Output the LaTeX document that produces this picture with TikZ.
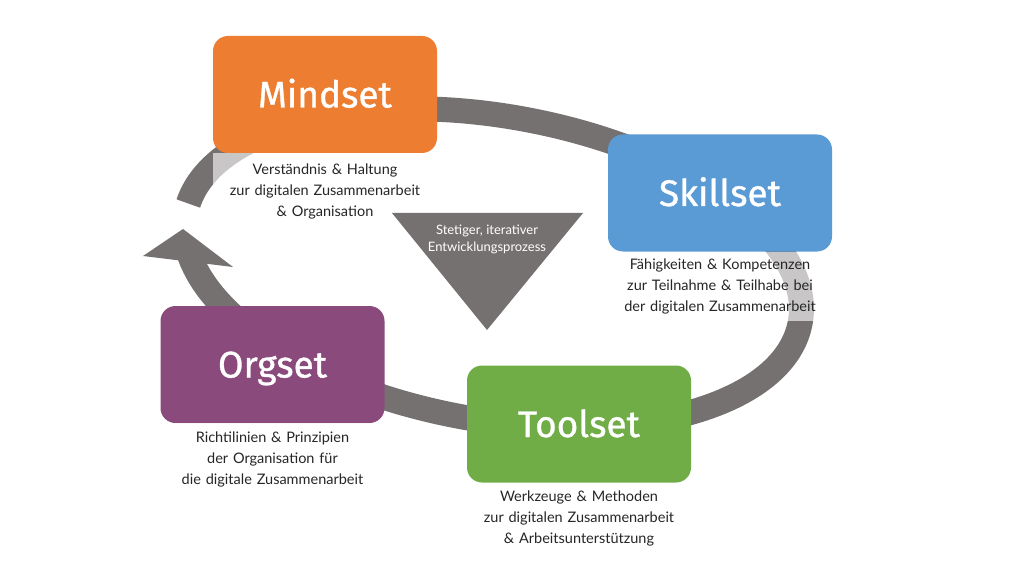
\documentclass[tikz,border=0pt]{standalone}
\usepackage{fontspec}
\setmainfont{Lato}
\newfontfamily\titlefont{Fira Sans}[FakeBold=0.9]
\definecolor{mindorange}{HTML}{ED7D31}
\definecolor{skillblue}{HTML}{5B9BD5}
\definecolor{orgpurple}{HTML}{8A4B7C}
\definecolor{toolgreen}{HTML}{70AD47}
\definecolor{ringgray}{HTML}{767171}
\definecolor{labeltext}{HTML}{262626}
\begin{document}
\begin{tikzpicture}[x=1pt,y=1pt,
  setbox/.style={rounded corners=15pt, minimum width=224pt, minimum height=117pt, inner sep=0pt,
    text height=26pt, text depth=0pt,
    text=white, font=\titlefont\fontsize{37}{40}\selectfont},
  desc/.style={anchor=north, text width=224pt, align=center, fill=white, fill opacity=0.6,
    text opacity=1, text=labeltext, inner xsep=0pt, inner ysep=7pt,
    font=\fontsize{14.5}{21}\selectfont},
  ring/.style={draw=ringgray, line width=25pt},
  tri/.style={fill=ringgray},
  tritext/.style={text=white, align=center, font=\fontsize{13}{17}\selectfont}]
\useasboundingbox (0,0) rectangle (1020,574);
\fill[white] (0,0) rectangle (1020,574);
% ring
\begin{scope}[shift={(493,306)}, rotate=-10]
  \draw[ring] (176:312 and 152) arc[start angle=176, end angle=-166, x radius=312, y radius=152];
\end{scope}
\fill[ringgray] (183,345) -- (143,318) -- (233,307) -- cycle;
% boxes
\node[setbox, fill=mindorange] (mind) at (325,479.5) {Mindset};
\node[setbox, fill=skillblue] (skill) at (720,381) {Skillset};
\node[setbox, fill=orgpurple] (org) at (272.5,209.5) {Orgset};
\node[setbox, fill=toolgreen] (tool) at (579,150) {Toolset};
% labels
\node[desc, inner ysep=10pt] (mindl) at (mind.south) {Verständnis \& Haltung\\zur digitalen Zusammenarbeit\\\& Organisation};
\node[desc] (skilll) at (skill.south) {Fähigkeiten \& Kompetenzen\\zur Teilnahme \& Teilhabe bei\\der digitalen Zusammenarbeit};
\node[desc, inner ysep=8pt] (orgl) at (org.south) {Richtilinien \& Prinzipien\\der Organisation für\\die digitale Zusammenarbeit};
\node[desc, inner ysep=8pt] (tooll) at (tool.south) {Werkzeuge \& Methoden\\zur digitalen Zusammenarbeit\\\& Arbeitsunterstützung};
% central triangle
\fill[tri] (392,361) -- (583,361) -- (487,244) -- cycle;
\node[tritext] (proc) at (487,335) {Stetiger, iterativer\\Entwicklungsprozess};
\end{tikzpicture}
\end{document}
